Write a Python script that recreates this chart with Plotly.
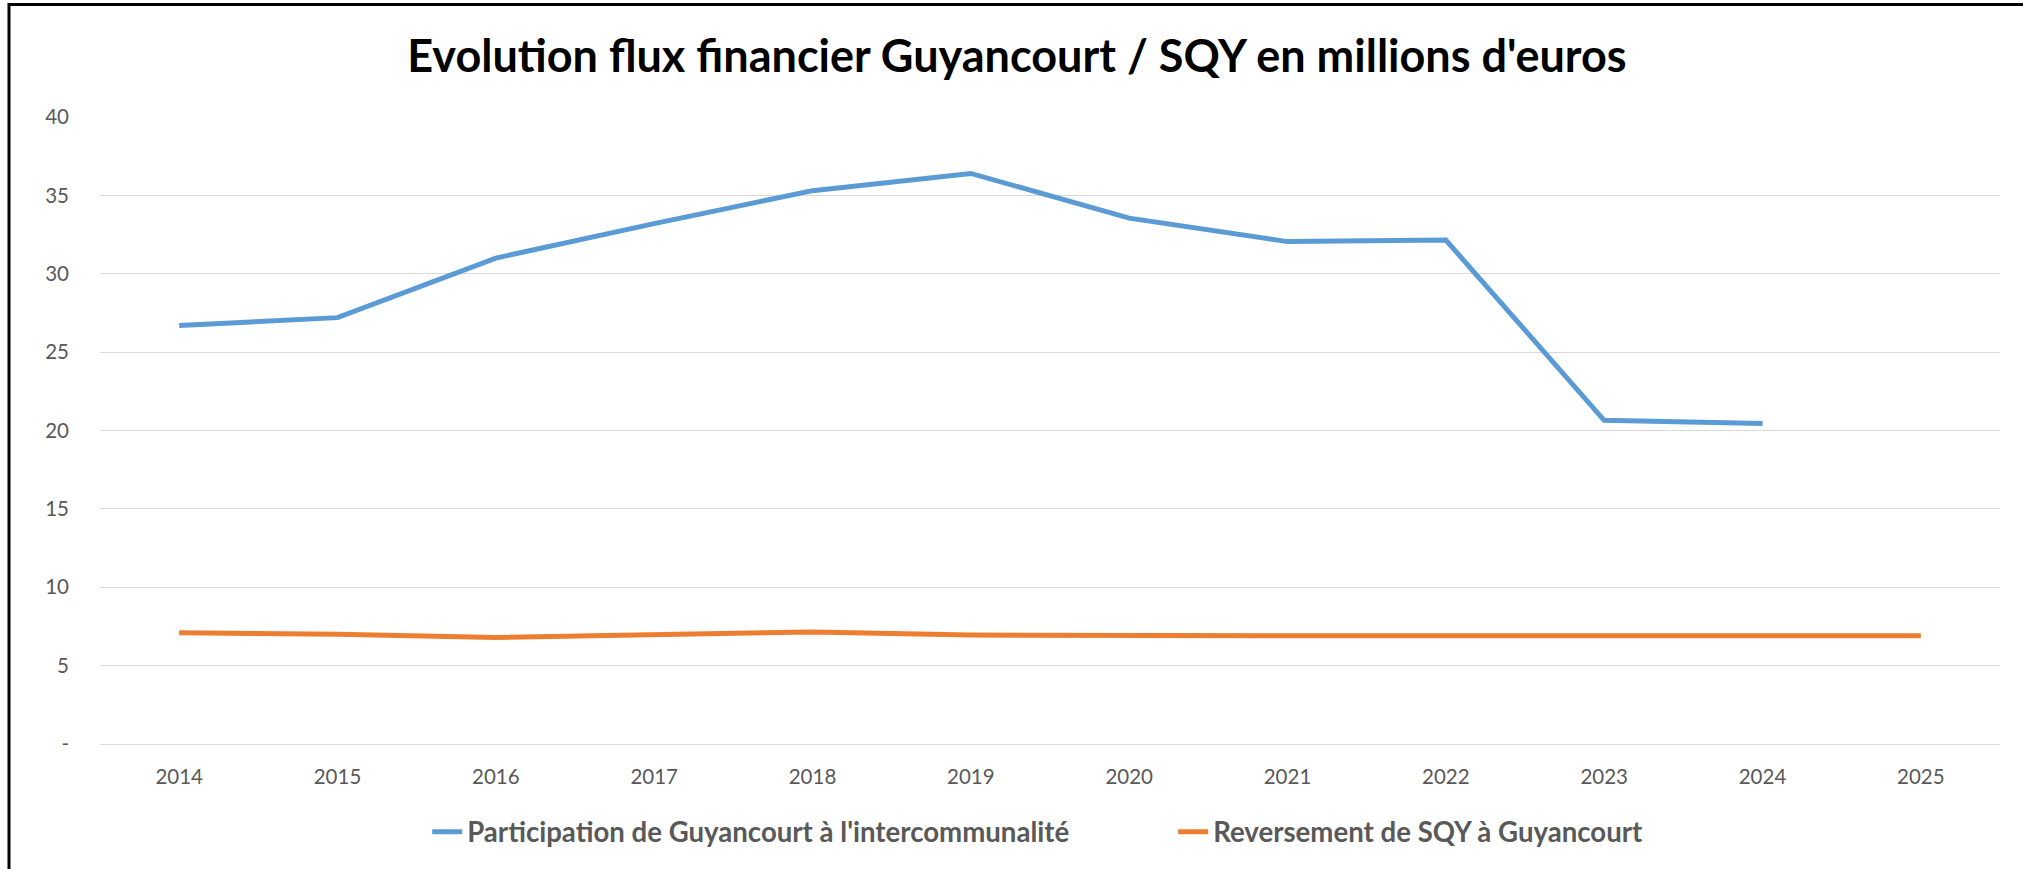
import plotly.graph_objects as go

years = ["2014", "2015", "2016", "2017", "2018", "2019", "2020", "2021", "2022", "2023", "2024", "2025"]
participation = [26.7, 27.2, 31.0, 33.2, 35.3, 36.4, 33.55, 32.05, 32.15, 20.65, 20.45, None]
reversement = [7.1, 7.0, 6.8, 6.95, 7.15, 6.95, 6.9, 6.9, 6.9, 6.9, 6.9, 6.9]
y_tickvals = [0, 5, 10, 15, 20, 25, 30, 35, 40]
y_ticktext = ["-", "5", "10", "15", "20", "25", "30", "35", "40"]

title_text = "Evolution flux financier Guyancourt / SQY en millions d'euros"
name_participation = "Participation de Guyancourt à l'intercommunalité"
name_reversement = "Reversement de SQY à Guyancourt"

fig = go.Figure()
fig.add_trace(go.Scatter(x=years, y=participation, mode="lines", name=name_participation,
                         line=dict(color="#5B9BD5", width=5), connectgaps=False))
fig.add_trace(go.Scatter(x=years, y=reversement, mode="lines", name=name_reversement,
                         line=dict(color="#ED7D31", width=5)))

fig.update_layout(
    width=2023, height=869,
    margin=dict(l=100, r=23, t=117, b=125, autoexpand=False),
    paper_bgcolor="white", plot_bgcolor="white",
    title=dict(text="<b>" + title_text + "</b>", x=0.5027, xanchor="center", y=0.935, yanchor="middle",
               font=dict(family="Lato", size=45, color="black")),
    font=dict(family="Lato", color="#595959", size=20),
    xaxis=dict(type="category", range=[-0.5, 11.5], showgrid=False, showline=False, automargin=False,
               ticks="", tickfont=dict(size=20.5, color="#595959"), ticklabelstandoff=18),
    yaxis=dict(range=[0, 40], tickvals=y_tickvals, ticktext=y_ticktext, showgrid=True, automargin=False,
               gridcolor="#D9D9D9", gridwidth=1.3, zeroline=True, zerolinecolor="#D9D9D9",
               zerolinewidth=1.3, showline=False, ticks="", tickfont=dict(size=20.5, color="#595959"),
               ticklabelstandoff=30),
    legend=dict(orientation="h", x=0.1722, xanchor="left", y=-0.14, yanchor="middle",
                font=dict(family="Lato", size=27.6, color="#595959", weight="bold"),
                entrywidth=701, entrywidthmode="pixels", bgcolor="rgba(0,0,0,0)"),
    showlegend=True,
    shapes=[dict(type="rect", xref="paper", yref="paper",
                 x0=-0.0479, x1=1.02, y0=-0.22, y1=1.1793,
                 line=dict(color="black", width=3), fillcolor="rgba(0,0,0,0)", layer="below")],
)

fig.write_html("out.html", config={"displayModeBar": False},
               post_script="document.body.style.margin='0';document.body.style.overflow='hidden';")
